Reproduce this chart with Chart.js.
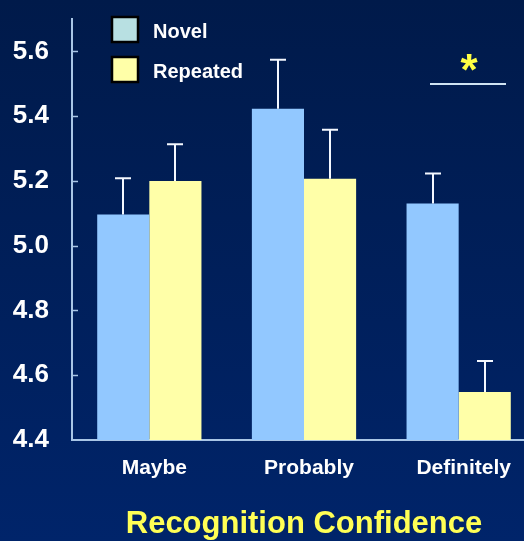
<!DOCTYPE html>
<html>
<head>
<meta charset="utf-8">
<script src="https://cdn.jsdelivr.net/npm/chart.js@4/dist/chart.umd.min.js"></script>
<style>
  html, body { margin: 0; padding: 0; overflow: hidden; background: #002060; }
  #wrap { width: 524px; height: 541px; overflow: hidden; position: relative; }
  canvas { display: block; }
</style>
</head>
<body>
<div id="wrap"><canvas id="c" width="536" height="541"></canvas></div>
<script>
// Mean rating by recognition confidence, with standard errors (upper whisker only)
const categories = ['Maybe', 'Probably', 'Definitely'];
const seriesNames = ['Novel', 'Repeated'];
const novelMeans = [5.096, 5.423, 5.130];
const novelErrors = [0.112, 0.151, 0.093];
const repeatedMeans = [5.200, 5.207, 4.548];
const repeatedErrors = [0.113, 0.151, 0.096];
const yTickValues = [4.4, 4.6, 4.8, 5.0, 5.2, 5.4, 5.6];
const yMin = 4.4, yMax = 5.7;
const xTitle = 'Recognition Confidence';

const AXIS_COLOR = '#a9c6e6';
const NOVEL_COLOR = '#92c8ff';
const REPEATED_COLOR = '#ffffa8';
const FONT = 'Liberation Sans, Arial, Helvetica, sans-serif';

// Navy gradient backdrop
const backdrop = {
  id: 'backdrop',
  beforeDraw(chart) {
    const { ctx, width, height } = chart;
    const g = ctx.createLinearGradient(0, 0, 0, height);
    g.addColorStop(0, '#001a4a');
    g.addColorStop(1, '#00246a');
    ctx.save();
    ctx.fillStyle = g;
    ctx.fillRect(0, 0, width, height);
    ctx.restore();
  }
};

// Inward tick marks on the value axis
const innerTicks = {
  id: 'innerTicks',
  afterDraw(chart) {
    const { ctx } = chart;
    const y = chart.scales.y;
    const x0 = chart.chartArea.left;
    ctx.save();
    ctx.strokeStyle = AXIS_COLOR;
    ctx.lineWidth = 1.5;
    yTickValues.forEach(v => {
      if (v === yMin) return;
      const py = Math.round(y.getPixelForValue(v)) + 0.5;
      ctx.beginPath();
      ctx.moveTo(x0, py);
      ctx.lineTo(x0 + 6, py);
      ctx.stroke();
    });
    ctx.restore();
  }
};

// Upper error whiskers with caps
const errorBars = {
  id: 'errorBars',
  afterDatasetsDraw(chart) {
    const { ctx } = chart;
    const y = chart.scales.y;
    ctx.save();
    ctx.strokeStyle = '#f4f8ff';
    ctx.lineWidth = 2;
    chart.data.datasets.forEach((ds, i) => {
      const meta = chart.getDatasetMeta(i);
      meta.data.forEach((bar, j) => {
        const top = y.getPixelForValue(ds.data[j] + ds.errors[j]);
        const cx = Math.round(bar.x);
        ctx.beginPath();
        ctx.moveTo(cx, bar.y);
        ctx.lineTo(cx, top);
        ctx.moveTo(cx - 8, top);
        ctx.lineTo(cx + 8, top);
        ctx.stroke();
      });
    });
    ctx.restore();
  }
};

// Legend boxes and the significance marker
const annotations = {
  id: 'annotations',
  afterDraw(chart) {
    const { ctx } = chart;
    ctx.save();
    const items = [
      { label: seriesNames[0], fill: '#b8e0e2', y: 17 },
      { label: seriesNames[1], fill: '#ffffa8', y: 57 }
    ];
    items.forEach(it => {
      ctx.fillStyle = it.fill;
      ctx.strokeStyle = '#000000';
      ctx.lineWidth = 2.5;
      ctx.fillRect(112, it.y, 26, 25);
      ctx.strokeRect(112, it.y, 26, 25);
      ctx.fillStyle = '#ffffff';
      ctx.font = 'bold 20px ' + FONT;
      ctx.textBaseline = 'middle';
      ctx.textAlign = 'left';
      ctx.fillText(it.label, 153, it.y + 15);
    });
    // significance bar over "Definitely"
    ctx.strokeStyle = '#cfe3f2';
    ctx.lineWidth = 2;
    ctx.beginPath();
    ctx.moveTo(430, 84);
    ctx.lineTo(506, 84);
    ctx.stroke();
    ctx.fillStyle = '#ffff44';
    ctx.font = 'bold 44px ' + FONT;
    ctx.textAlign = 'center';
    ctx.textBaseline = 'alphabetic';
    ctx.fillText('*', 469, 85);
    ctx.restore();
  }
};

new Chart(document.getElementById('c'), {
  type: 'bar',
  data: {
    labels: categories,
    datasets: [
      { label: seriesNames[0], data: novelMeans, errors: novelErrors, backgroundColor: NOVEL_COLOR, borderWidth: 0 },
      { label: seriesNames[1], data: repeatedMeans, errors: repeatedErrors, backgroundColor: REPEATED_COLOR, borderWidth: 0 }
    ]
  },
  options: {
    responsive: false,
    devicePixelRatio: 1,
    animation: false,
    layout: { padding: { top: 19, left: 0, right: 0, bottom: 0 } },
    datasets: { bar: { categoryPercentage: 0.674, barPercentage: 1.0 } },
    plugins: {
      legend: { display: false },
      tooltip: { enabled: false }
    },
    scales: {
      x: {
        type: 'category',
        grid: { display: false },
        border: { display: true, color: AXIS_COLOR, width: 2 },
        afterFit(s) { s.height = 101; s.paddingLeft = 0; s.paddingRight = 0; },
        ticks: {
          color: '#ffffff',
          font: { family: FONT, size: 21, weight: 'bold' },
          padding: 8,
          labelOffset: 5,
          maxRotation: 0
        },
        title: {
          display: true,
          text: xTitle,
          color: '#ffff55',
          font: { family: FONT, size: 31, weight: 'bold' },
          padding: { top: 0, bottom: -2 }
        }
      },
      y: {
        min: yMin,
        max: yMax,
        grid: { display: false },
        border: { display: true, color: AXIS_COLOR, width: 2 },
        afterFit(s) { s.width = 72; s.paddingTop = 0; s.paddingBottom = 0; },
        afterBuildTicks(s) { s.ticks = yTickValues.map(v => ({ value: v })); },
        ticks: {
          color: '#ffffff',
          font: { family: FONT, size: 26, weight: 'bold' },
          padding: 15,
          callback: v => Number(v).toFixed(1)
        }
      }
    }
  },
  plugins: [backdrop, innerTicks, errorBars, annotations]
});
</script>
</body>
</html>
